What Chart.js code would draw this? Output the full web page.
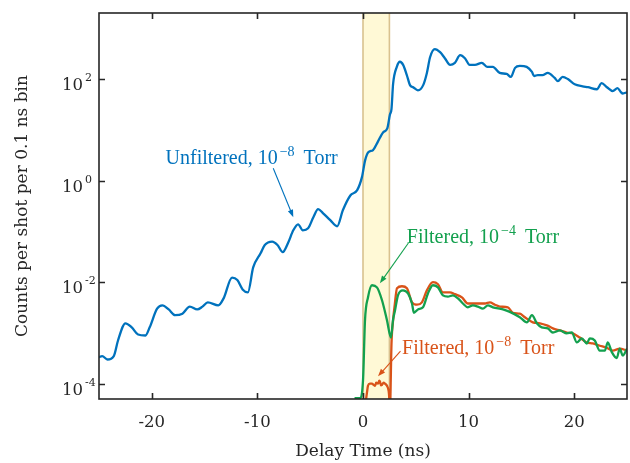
<!DOCTYPE html>
<html>
<head>
<meta charset="utf-8">
<script src="https://cdn.jsdelivr.net/npm/chart.js@4/dist/chart.umd.min.js"></script>
<style>
  body { margin: 0; background: #fff; }
  #graphContainer { width: 630px; height: 463px; }
</style>
</head>
<body>
<div id="graphContainer"><canvas id="chart" width="630" height="463"></canvas></div>
<script>
// delay time (ns) and counts per shot per 0.1 ns bin
const unfilteredX = [-25, -24.7, -24.2, -23.6, -23.2, -22.5, -21.9, -21.3, -20.6, -20.2, -19.5, -19.0, -18.4, -17.8, -17.1, -16.4, -15.7, -15.2, -14.7, -13.7, -13.2, -12.4, -11.9, -11.4, -10.9, -10.4, -9.7, -9.3, -8.6, -8.1, -7.6, -7.1, -6.6, -6.15, -5.7, -5.2, -4.7, -4.25, -3.8, -3.1, -2.45, -1.9, -1.2, -0.55, -0.1, 0.2, 0.5, 0.95, 1.4, 1.9, 2.3, 2.55, 2.7, 2.85, 3.2, 3.5, 3.8, 4.15, 4.45, 4.75, 5.2, 5.7, 6.05, 6.35, 6.8, 7.3, 7.75, 8.25, 8.7, 9.2, 9.65, 10.1, 10.6, 11.25, 11.75, 12.3, 12.95, 13.6, 14.0, 14.4, 14.85, 15.5, 16.0, 16.2, 16.55, 17.0, 17.5, 18.15, 18.45, 18.9, 19.4, 20.05, 20.8, 21.3, 22.15, 22.6, 23.1, 23.65, 24.1, 24.4, 24.6, 25];
const unfilteredY = [3.3e-4, 3.5e-4, 3.0e-4, 3.5e-4, 7.1e-4, 1.55e-3, 1.29e-3, 9.3e-4, 8.9e-4, 1.29e-3, 3.0e-3, 3.5e-3, 2.9e-3, 2.24e-3, 2.4e-3, 3.3e-3, 2.9e-3, 3.3e-3, 4.0e-3, 3.5e-3, 4.8e-3, 1.23e-2, 1.1e-2, 7.2e-3, 6.3e-3, 1.95e-2, 3.7e-2, 5.4e-2, 6.3e-2, 5.4e-2, 3.9e-2, 5.9e-2, 0.105, 0.138, 0.105, 0.115, 0.19, 0.275, 0.23, 0.166, 0.126, 0.263, 0.51, 0.65, 1.17, 2.5, 3.6, 4.0, 5.8, 8.9, 10.7, 20, 26, 80, 174, 219, 190, 120, 76, 69, 60, 76, 132, 269, 389, 339, 257, 190, 209, 295, 257, 190, 190, 209, 174, 174, 132, 126, 110, 166, 182, 174, 138, 115, 120, 120, 132, 105, 91, 110, 100, 79, 72, 69, 63, 83, 69, 58, 66, 56, 52, 55];

const filtered4X = [-0.8, -0.3, 0.0, 0.19, 0.47, 0.85, 1.32, 1.8, 2.27, 2.65, 2.84, 3.03, 3.31, 3.78, 4.26, 4.64, 4.82, 5.2, 5.68, 6.15, 6.62, 7.1, 7.57, 8.04, 8.51, 8.99, 9.46, 9.93, 10.4, 10.88, 11.35, 11.83, 12.3, 13.25, 13.9, 14.85, 15.52, 16.0, 16.46, 16.93, 17.5, 17.98, 18.64, 19.3, 19.77, 20.25, 20.72, 21.19, 21.48, 21.95, 22.42, 22.9, 23.18, 23.56, 24.03, 24.31, 24.6, 25];
const filtered4Y = [5.2e-5, 5.2e-5, 1.15e-4, 1.78e-3, 5.0e-3, 8.7e-3, 7.9e-3, 4.4e-3, 1.78e-3, 8.1e-4, 1.78e-3, 2.75e-3, 5.5e-3, 6.9e-3, 6.0e-3, 3.8e-3, 2.5e-3, 2.9e-3, 3.2e-3, 6.0e-3, 8.7e-3, 7.9e-3, 5.5e-3, 5.2e-3, 5.5e-3, 4.8e-3, 3.8e-3, 3.2e-3, 3.5e-3, 3.3e-3, 3.0e-3, 3.5e-3, 3.2e-3, 2.9e-3, 2.6e-3, 2.04e-3, 1.62e-3, 2.24e-3, 1.55e-3, 1.29e-3, 1.23e-3, 1.02e-3, 1.12e-3, 9.8e-4, 1.02e-3, 6.5e-4, 7.8e-4, 6.2e-4, 7.8e-4, 7.1e-4, 4.5e-4, 4.5e-4, 6.5e-4, 4.2e-4, 3.2e-4, 4.9e-4, 3.6e-4, 4.9e-4];

const filtered8X = [0.15, 0.38, 0.47, 0.65, 0.85, 1.0, 1.14, 1.25, 1.42, 1.55, 1.61, 1.7, 1.8, 1.95, 2.08, 2.27, 2.46, 2.55, 2.7, 2.85, 3.0, 3.22, 3.69, 4.16, 4.64, 5.11, 5.58, 6.05, 6.62, 7.1, 7.57, 8.23, 8.7, 9.37, 9.93, 10.6, 11.07, 11.54, 12.02, 12.49, 12.96, 13.72, 14.19, 14.85, 15.33, 16.08, 16.75, 17.41, 17.98, 18.64, 19.3, 19.87, 20.53, 21.19, 21.76, 22.42, 23.08, 23.65, 24.31, 25];
const filtered8Y = [3e-5, 6.8e-5, 9.1e-5, 1.0e-4, 1.0e-4, 9.5e-5, 9.1e-5, 1.05e-4, 1.0e-4, 1.15e-4, 1.1e-4, 9.3e-5, 9.5e-5, 1.05e-4, 1.0e-4, 9.1e-5, 6.3e-5, 3e-5, 6.3e-4, 1.78e-3, 3.5e-3, 7.6e-3, 8.3e-3, 7.6e-3, 4.0e-3, 3.6e-3, 4.0e-3, 6.9e-3, 1.0e-2, 9.1e-3, 6.3e-3, 6.3e-3, 5.8e-3, 5.0e-3, 3.8e-3, 3.8e-3, 3.8e-3, 3.8e-3, 4.0e-3, 3.6e-3, 3.3e-3, 3.2e-3, 2.5e-3, 2.4e-3, 2.04e-3, 1.62e-3, 1.55e-3, 1.41e-3, 1.23e-3, 1.12e-3, 1.02e-3, 9.8e-4, 8.1e-4, 6.5e-4, 6.2e-4, 5.6e-4, 5.1e-4, 4.5e-4, 4.9e-4, 4.5e-4];

const xTicks = [-20, -10, 0, 10, 20];
const yTicks = [1e-4, 1e-2, 1, 1e2];
const yTickExponents = ["-4", "-2", "0", "2"];
const bandRange = [0, 2.5]; // shaded window (ns)

const BLUE = "#0072BD";
const ORANGE = "#D95319";
const GREEN = "#13A04E";
const AXIS = "#262626";
const SERIF = "'DejaVu Serif', serif";
const TEXT_SERIF = "'Liberation Serif', serif";

// label text, superscript, anchor (data coords) and arrow (data coords)
const notes = [
  { text: "Unfiltered, 10", sup: "\u22128", tail: " Torr", color: BLUE, at: [-18.7, 2.75], from: [-8.5, 1.75], to: [-6.6, 0.19] },
  { text: "Filtered, 10", sup: "\u22124", tail: " Torr", color: GREEN, at: [4.15, 0.076], from: [4.3, 0.059], to: [1.6, 0.0095] },
  { text: "Filtered, 10", sup: "\u22128", tail: " Torr", color: ORANGE, at: [3.7, 5.1e-4], from: [3.55, 4.4e-4], to: [1.42, 1.4e-4] },
];

const toPoints = (xs, ys) => xs.map((x, i) => ({ x: x, y: ys[i] }));

const bandPlugin = {
  id: "band",
  beforeDatasetsDraw(chart) {
    const { ctx, chartArea, scales } = chart;
    const x0 = scales.x.getPixelForValue(bandRange[0]);
    const x1 = scales.x.getPixelForValue(bandRange[1]);
    ctx.save();
    ctx.fillStyle = "#FFF9D6";
    ctx.fillRect(x0, chartArea.top, x1 - x0, chartArea.bottom - chartArea.top);
    ctx.strokeStyle = "#D9C28F";
    ctx.lineWidth = 1.6;
    [x0, x1].forEach((px) => {
      ctx.beginPath();
      ctx.moveTo(px, chartArea.top);
      ctx.lineTo(px, chartArea.bottom);
      ctx.stroke();
    });
    ctx.restore();
  },
};

const framePlugin = {
  id: "frame",
  afterDraw(chart) {
    const { ctx, chartArea, scales } = chart;
    const { left, right, top, bottom } = chartArea;
    ctx.save();
    ctx.strokeStyle = AXIS;
    ctx.lineWidth = 1.6;
    ctx.strokeRect(left, top, right - left, bottom - top);
    const tick = 6;
    ctx.beginPath();
    xTicks.forEach((v) => {
      const px = Math.round(scales.x.getPixelForValue(v)) + 0.5;
      ctx.moveTo(px, bottom); ctx.lineTo(px, bottom - tick);
      ctx.moveTo(px, top); ctx.lineTo(px, top + tick);
    });
    yTicks.forEach((v) => {
      const py = Math.round(scales.y.getPixelForValue(v)) + 0.5;
      ctx.moveTo(left, py); ctx.lineTo(left + tick, py);
      ctx.moveTo(right, py); ctx.lineTo(right - tick, py);
    });
    ctx.stroke();

    // y tick labels as 10 with raised exponent
    ctx.fillStyle = AXIS;
    ctx.textBaseline = "alphabetic";
    yTicks.forEach((v, i) => {
      const py = scales.y.getPixelForValue(v);
      ctx.font = "16.5px " + SERIF;
      ctx.textAlign = "right";
      ctx.fillText("10", left - 16, py + 11);
      ctx.font = "11px " + SERIF;
      ctx.textAlign = "left";
      ctx.fillText(yTickExponents[i], left - 14, py + 2);
    });
    ctx.restore();
  },
};

const notesPlugin = {
  id: "notes",
  afterDatasetsDraw(chart) {
    const { ctx, scales } = chart;
    ctx.save();
    notes.forEach((n) => {
      const tx = scales.x.getPixelForValue(n.at[0]);
      const ty = scales.y.getPixelForValue(n.at[1]);
      ctx.fillStyle = n.color;
      ctx.textAlign = "left";
      ctx.textBaseline = "alphabetic";
      ctx.font = "20px " + TEXT_SERIF;
      ctx.fillText(n.text, tx, ty + 6);
      let w = ctx.measureText(n.text).width + 2;
      ctx.font = "14px " + TEXT_SERIF;
      ctx.fillText(n.sup, tx + w, ty - 2);
      w += ctx.measureText(n.sup).width + 4;
      ctx.font = "20px " + TEXT_SERIF;
      ctx.fillText(n.tail, tx + w, ty + 6);

      const ax = scales.x.getPixelForValue(n.from[0]);
      const ay = scales.y.getPixelForValue(n.from[1]);
      const bx = scales.x.getPixelForValue(n.to[0]);
      const by = scales.y.getPixelForValue(n.to[1]);
      const ang = Math.atan2(by - ay, bx - ax);
      const head = 8;
      ctx.strokeStyle = n.color;
      ctx.lineWidth = 1.1;
      ctx.beginPath();
      ctx.moveTo(ax, ay);
      ctx.lineTo(bx - Math.cos(ang) * head * 0.8, by - Math.sin(ang) * head * 0.8);
      ctx.stroke();
      ctx.beginPath();
      ctx.moveTo(bx, by);
      ctx.lineTo(bx - head * Math.cos(ang - 0.35), by - head * Math.sin(ang - 0.35));
      ctx.lineTo(bx - head * Math.cos(ang + 0.35), by - head * Math.sin(ang + 0.35));
      ctx.closePath();
      ctx.fill();
    });
    ctx.restore();
  },
};

new Chart(document.getElementById("chart").getContext("2d"), {
  type: "line",
  data: {
    datasets: [
      { label: "Unfiltered, 1e-8 Torr", data: toPoints(unfilteredX, unfilteredY), borderColor: BLUE },
      { label: "Filtered, 1e-4 Torr", data: toPoints(filtered4X, filtered4Y), borderColor: GREEN },
      { label: "Filtered, 1e-8 Torr", data: toPoints(filtered8X, filtered8Y), borderColor: ORANGE },
    ],
  },
  options: {
    responsive: false,
    animation: false,
    layout: { padding: { top: 13, right: 3, left: 0, bottom: 0 } },
    elements: {
      point: { radius: 0 },
      line: { borderWidth: 2.3, cubicInterpolationMode: "monotone", fill: false },
    },
    plugins: { legend: { display: false }, tooltip: { enabled: false } },
    scales: {
      x: {
        type: "linear",
        min: -25,
        max: 25,
        afterBuildTicks: (s) => { s.ticks = xTicks.map((v) => ({ value: v })); },
        afterFit: (s) => { s.height = 64; },
        grid: { display: false, drawTicks: false },
        border: { display: false },
        ticks: { color: AXIS, font: { family: SERIF, size: 16.5 }, padding: 14, maxRotation: 0 },
        title: { display: true, text: "Delay Time (ns)", color: AXIS, font: { family: SERIF, size: 17 }, padding: { top: 0, bottom: 1 } },
      },
      y: {
        type: "logarithmic",
        min: 5e-5,
        max: 2e3,
        afterBuildTicks: (s) => { s.ticks = yTicks.map((v) => ({ value: v })); },
        afterFit: (s) => { s.width = 99; },
        grid: { display: false, drawTicks: false },
        border: { display: false },
        ticks: { display: false },
        title: { display: true, text: "Counts per shot per 0.1 ns bin", color: AXIS, font: { family: SERIF, size: 17 }, padding: { top: 12, bottom: 0 } },
      },
    },
  },
  plugins: [bandPlugin, notesPlugin, framePlugin],
});
</script>
</body>
</html>
